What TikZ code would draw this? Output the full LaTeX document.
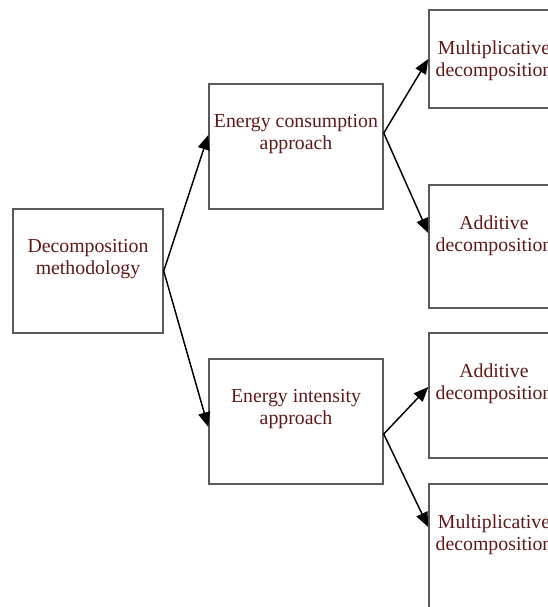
\documentclass[tikz,border=0pt]{standalone}
\usepackage{fontspec}
\setmainfont{Liberation Serif}
\usetikzlibrary{positioning,arrows.meta}
\definecolor{txtred}{RGB}{96,24,24}
\definecolor{boxgray}{RGB}{90,90,90}
\tikzset{ box/.style 2 args={draw=boxgray,line width=1.1pt,inner sep=0pt,minimum width=#1,minimum height=#2} }
\tikzset{ txt/.style={align=center,inner sep=0pt,text=txtred,font=\fontsize{14.85}{16.5}\selectfont} }
\tikzset{ arr/.style={-{Triangle[length=11pt,width=9pt]},line width=1.1pt} }

\begin{document}
\begin{tikzpicture}[x=0.75pt,y=-0.75pt]
   \path[use as bounding box,clip] (0,0) rectangle (548,607);
   % boxes
   \node[box={112.5pt}{93pt}] (dm) at (88,271) {};
   \node[box={130.5pt}{93.75pt}] (cons) at (296,146.5) {};
   \node[box={130.5pt}{93.75pt}] (int) at (296,421.5) {};
   \node[box={97.5pt}{73.5pt}] (mult1) at (494,59) {};
   \node[box={97.5pt}{92.25pt}] (add1) at (494,246.5) {};
   \node[box={97.5pt}{93.75pt}] (add2) at (494,395.5) {};
   \node[box={97.5pt}{93.75pt}] (mult2) at (494,546.5) {};
   % texts
   \node[txt,below=23.5pt of dm.north] (dm-t) {Decomposition\\methodology};
   \node[txt,below=23.5pt of cons.north] (cons-t) {Energy consumption\\approach};
   \node[txt,below=23.5pt of int.north] (int-t) {Energy intensity\\approach};
   \node[txt,below=23.5pt of mult1.north] (mult1-t) {Multiplicative\\decomposition};
   \node[txt,below=23.5pt of add1.north] (add1-t) {Additive\\decomposition};
   \node[txt,below=23.5pt of add2.north] (add2-t) {Additive\\decomposition};
   \node[txt,below=23.5pt of mult2.north] (mult2-t) {Multiplicative\\decomposition};
   % arrows
   \coordinate (cons-out) at ([yshift=10.1pt]cons.east);
   \coordinate (int-out) at ([yshift=-9.4pt]int.east);
   \draw[arr] (dm.east) -- ([yshift=8.6pt]cons.west);
   \draw[arr] (dm.east) -- ([yshift=-4.1pt]int.west);
   \draw[arr] (cons-out) -- (mult1.west);
   \draw[arr] (cons-out) -- ([yshift=10.1pt]add1.west);
   \draw[arr] (int-out) -- ([yshift=6.4pt]add2.west);
   \draw[arr] (int-out) -- ([yshift=14.6pt]mult2.west);
\end{tikzpicture}
\end{document}
